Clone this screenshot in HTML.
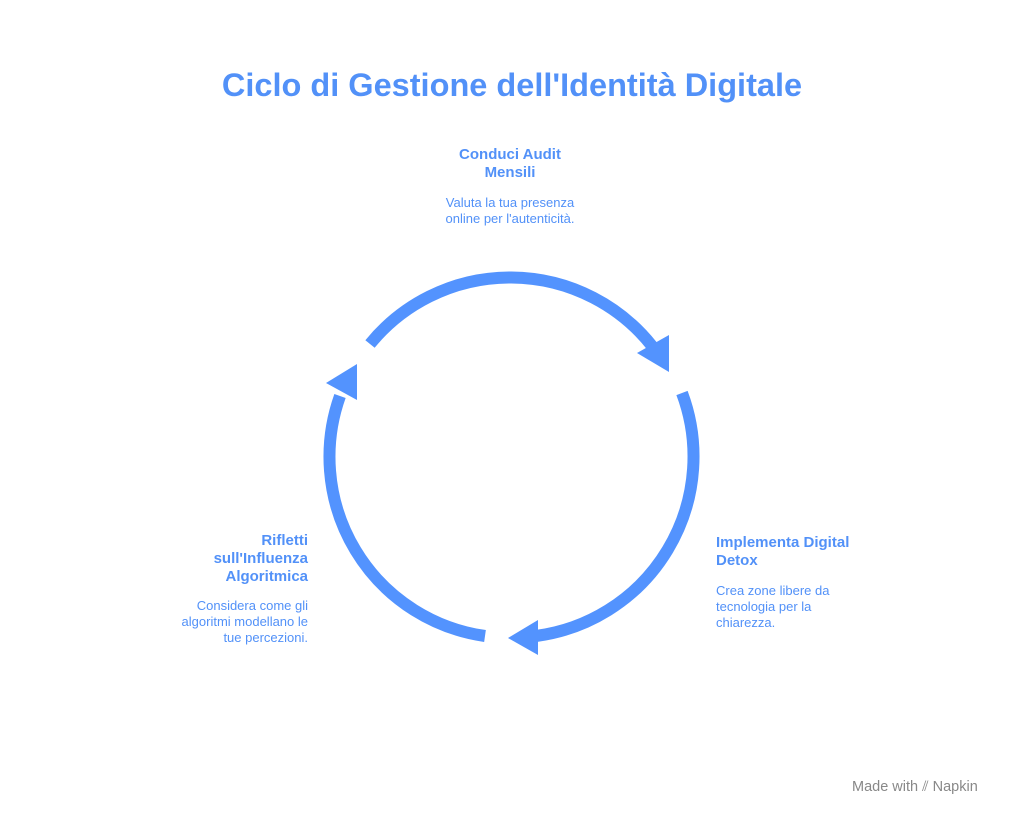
<!DOCTYPE html>
<html><head><meta charset="utf-8"><style>
body{margin:0;width:1024px;height:823px;background:#fff;position:relative;font-family:"Liberation Sans",sans-serif;overflow:hidden}
.t{position:absolute;color:#5291f8}
.h{font-weight:bold;font-size:15px;line-height:18px}
.d{font-size:13px;line-height:16px}
</style></head><body>
<div class="t" style="left:0;width:1024px;top:65px;text-align:center;font-size:32.5px;font-weight:bold;line-height:40px">Ciclo di Gestione dell'Identità Digitale</div>
<div class="t h" style="left:410px;width:200px;top:146px;text-align:center">Conduci Audit<br>Mensili</div>
<div class="t d" style="left:410px;width:200px;top:195px;text-align:center">Valuta la tua presenza<br>online per l'autenticità.</div>
<div class="t h" style="left:716px;top:534px">Implementa Digital<br>Detox</div>
<div class="t d" style="left:716px;top:583px">Crea zone libere da<br>tecnologia per la<br>chiarezza.</div>
<div class="t h" style="left:140px;width:168px;top:532px;text-align:right">Rifletti<br>sull'Influenza<br>Algoritmica</div>
<div class="t d" style="left:140px;width:168px;top:598px;text-align:right">Considera come gli<br>algoritmi modellano le<br>tue percezioni.</div>
<svg width="1024" height="823" style="position:absolute;left:0;top:0">
<g fill="none" stroke="#5393fe" stroke-width="12">
<path d="M370 344 A181 181 0 0 1 652 346"/>
<path d="M682 393 A181 181 0 0 1 536 636"/>
<path d="M485 636 A181 181 0 0 1 340 396"/>
</g>
<g fill="#5393fe">
<polygon points="669,335 669,372 637,353"/>
<polygon points="538,620 538,655 508,638"/>
<polygon points="357,364 357,400 326,383"/>
</g>
</svg>
<div style="position:absolute;left:852px;top:779px;font-size:14.5px;color:#888">Made with <span style="color:#888">⫽</span> Napkin</div>
</body></html>
